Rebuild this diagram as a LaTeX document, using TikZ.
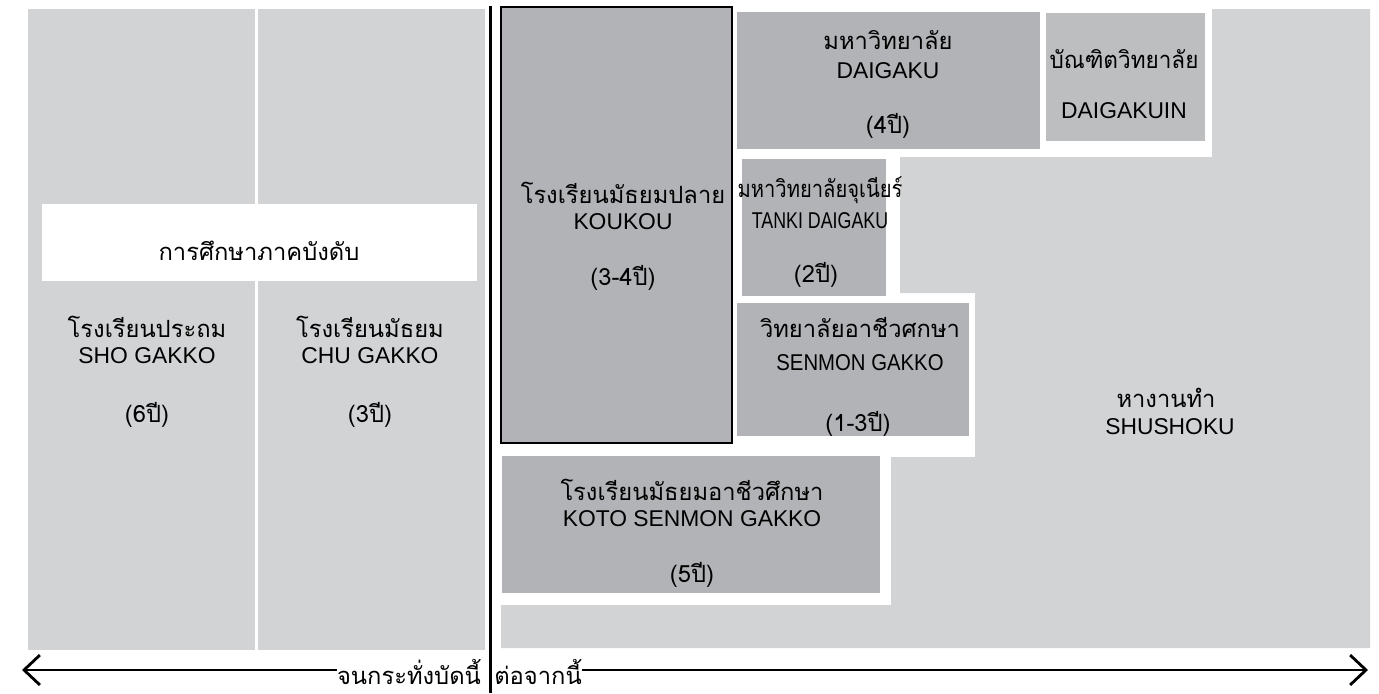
\documentclass[tikz,border=0pt]{standalone}
\usepackage{fontspec}
\usepackage{graphicx}
\setmainfont{Liberation Sans}
\newfontfamily\thaifont[Script=Thai]{Loma}
\usetikzlibrary{arrows.meta}

\definecolor{paleg}{RGB}{209,211,212}
\definecolor{boxg}{RGB}{177,179,182}
\definecolor{boxlt}{RGB}{188,190,192}

\begin{document}
\begin{tikzpicture}
[x=0.02cm,y=-0.02cm]
\tikzstyle{every node}=[inner sep=0pt,anchor=base]
\tikzstyle{thline}=[font=\thaifont\fontsize{13.5}{16}\selectfont]
\tikzstyle{enline}=[font=\fontsize{13}{16}\selectfont]
\tikzstyle{timeline}=[line width=1.6pt,-{Straight Barb[length=9pt,width=17pt]}]
\useasboundingbox (0,0) rectangle (1379,693);

% compulsory part
\fill[paleg] (28,9) rectangle (255,650);
\fill[paleg] (258,9) rectangle (485,650);
\fill[white] (42,204) rectangle (477,281);

% after that
\fill[paleg] (1212,9) -- (1370,9) -- (1370,648) -- (501,648) -- (501,605)
    -- (891,605) -- (891,457) -- (975,457) -- (975,293) -- (900,293)
    -- (900,157) -- (1212,157) -- cycle;
\filldraw[fill=boxg,draw=black,line width=1.1pt] (501,7) rectangle (732,443);
\fill[boxg] (737,12) rectangle (1040,149);
\fill[boxlt] (1046,13) rectangle (1205,141);
\fill[boxg] (742,159) rectangle (886,296);
\fill[boxg] (737,303) rectangle (969,436);
\fill[boxg] (502,456) rectangle (880,593);
\draw[line width=1.7pt] (490,6) -- (490,693);

\node[thline] (gimu) at (259,260) {การศึกษาภาคบังดับ};

\node[thline] (shoth) at (147,337) {โรงเรียนประถม};
\node[enline] (shoen) at (147,363) {SHO GAKKO};
\node[thline] (shoyr) at (147,422) {(6ปี)};

\node[thline] (chuth) at (370,337) {โรงเรียนมัธยม};
\node[enline] (chuen) at (370,363) {CHU GAKKO};
\node[thline] (chuyr) at (370,422) {(3ปี)};

\node[thline] (koth) at (623,203) {โรงเรียนมัธยมปลาย};
\node[enline] (koen) at (623,229) {KOUKOU};
\node[thline] (koyr) at (623,285) {(3-4ปี)};

\node[thline] (daith) at (888,50) {มหาวิทยาลัย};
\node[enline] (daien) at (888,78) {DAIGAKU};
\node[thline] (daiyr) at (888,133) {(4ปี)};

\node[thline] (inth) at (1124,68) {\scalebox{0.95}[1]{บัณฑิตวิทยาลัย}};
\node[enline] (inen) at (1124,118) {DAIGAKUIN};

\node[thline] (tanth) at (820,197) {\scalebox{0.85}[1]{มหาวิทยาลัยจุเนียร์}};
\node[enline] (tanen) at (820,228) {\scalebox{0.78}[1]{TANKI DAIGAKU}};
\node[thline] (tanyr) at (816,282) {(2ปี)};

\node[thline] (senth) at (860,337) {วิทยาลัยอาชีวศกษา};
\node[enline] (senen) at (860,370) {\scalebox{0.89}[1]{SENMON GAKKO}};
\node[thline] (senyr) at (858,431) {(1-3ปี)};

\node[thline] (kotoh) at (692,500) {โรงเรียนมัธยมอาชีวศึกษา};
\node[enline] (koten) at (692,526) {KOTO SENMON GAKKO};
\node[thline] (kotyr) at (692,582) {(5ปี)};

\node[thline] (shuth) at (1166,407) {หางานทำ};
\node[enline] (shuen) at (1170,434) {SHUSHOKU};

% time line
\node[thline] (until) at (409,684) {จนกระทั่งบัดนี้};
\node[thline] (from) at (538,684) {ต่อจากนี้};
\coordinate (lend) at (22,670);
\coordinate (rend) at (1368,670);
\draw[timeline] (until.west |- lend) -- (lend);
\draw[timeline] (from.east |- rend) -- (rend);
\end{tikzpicture}
\end{document}
